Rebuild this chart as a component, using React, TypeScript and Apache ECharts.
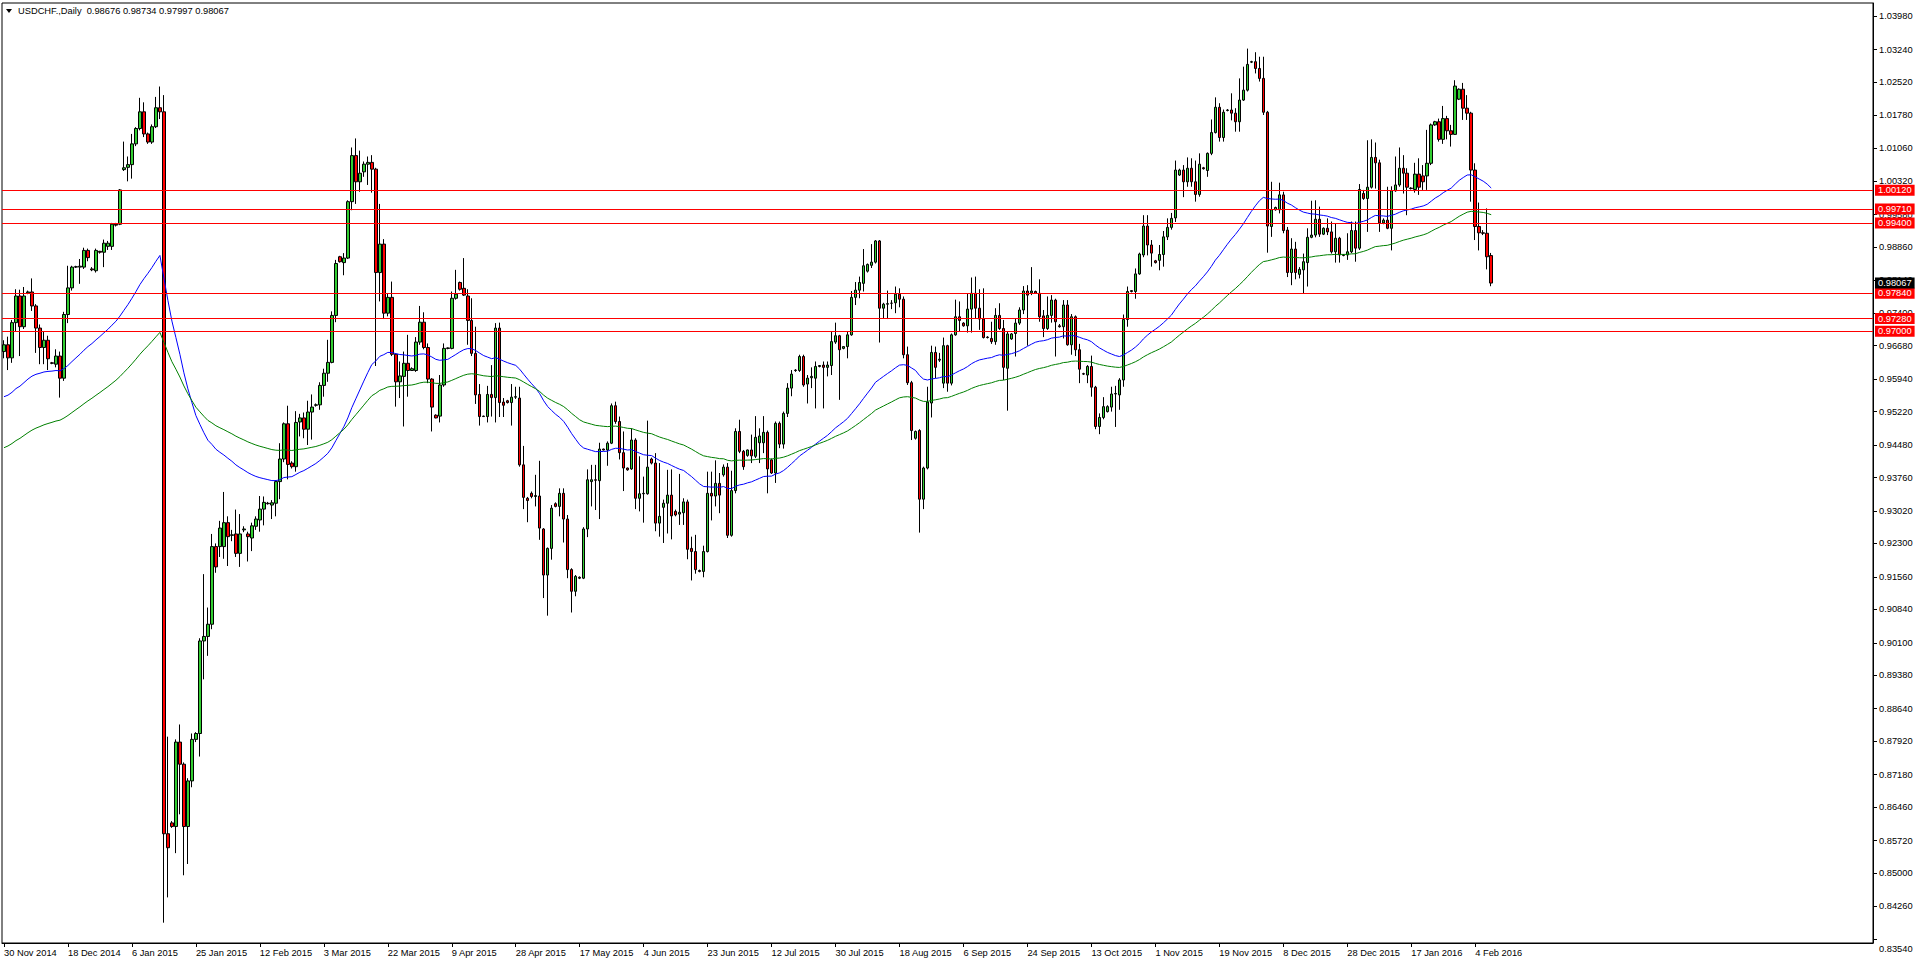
import React, { useEffect, useRef } from "react";
import * as echarts from "echarts";

const SYMBOL = "USDCHF.,Daily";
const FIRST_DAY = "2014-11-30";
const MISSING_DAYS = ["2015-12-25", "2016-01-01"];
const MONTHS = ["Jan", "Feb", "Mar", "Apr", "May", "Jun", "Jul", "Aug", "Sep", "Oct", "Nov", "Dec"];
const SLOT_COUNT = 468;
const LABEL_EVERY = 16;

const Y_MIN = 0.8345;
const Y_MAX = 1.0427;
const PRICE_TICKS = [
  1.0398, 1.0324, 1.0252, 1.0178, 1.0106, 1.0032, 0.9958, 0.9886, 0.9814, 0.974,
  0.9668, 0.9594, 0.9522, 0.9448, 0.9376, 0.9302, 0.923, 0.9156, 0.9084, 0.901,
  0.8938, 0.8864, 0.8792, 0.8718, 0.8646, 0.8572, 0.85, 0.8426, 0.8354,
];
const LEVELS = [1.0012, 0.9971, 0.994, 0.9784, 0.9728, 0.97];

const EMA_FAST_PERIOD = 50;
const EMA_FAST_START = 0.9555;
const EMA_SLOW_PERIOD = 100;
const EMA_SLOW_START = 0.9442;

// daily bars: [open, high, low, close]
const barsDecJan = [
  [0.9655, 0.968, 0.964, 0.967], [0.967, 0.9688, 0.9614, 0.9641], [0.9641, 0.9725, 0.963, 0.9719],
  [0.9719, 0.9793, 0.97, 0.9778], [0.9778, 0.9792, 0.9645, 0.971], [0.971, 0.9798, 0.9705, 0.9778],
  [0.9785, 0.979, 0.9782, 0.9787], [0.9787, 0.9817, 0.9745, 0.9756], [0.9756, 0.976, 0.9652, 0.9707],
  [0.9707, 0.9715, 0.9627, 0.9664], [0.9664, 0.97, 0.9627, 0.968], [0.968, 0.969, 0.9614, 0.9639],
  [0.963, 0.9632, 0.9627, 0.9629], [0.9627, 0.966, 0.962, 0.9645], [0.9645, 0.9655, 0.9553, 0.9596],
  [0.9596, 0.9743, 0.959, 0.9737], [0.9737, 0.9845, 0.9718, 0.9796], [0.9796, 0.9845, 0.979, 0.9842],
  [0.9842, 0.9845, 0.984, 0.9843], [0.9842, 0.986, 0.9805, 0.9844], [0.9842, 0.9885, 0.9838, 0.9879],
  [0.9879, 0.9883, 0.9855, 0.9863], [0.9838, 0.9842, 0.9833, 0.9836], [0.9834, 0.9883, 0.983, 0.9879],
  [0.9877, 0.9878, 0.9872, 0.9875], [0.9875, 0.9903, 0.9842, 0.9895], [0.9888, 0.99, 0.988, 0.9895],
  [0.9888, 0.994, 0.988, 0.9937], [0.9937, 0.994, 0.9932, 0.9935], [0.9937, 1.0015, 0.9935, 1.0013],
  [1.0058, 1.012, 1.0055, 1.0062], [1.0063, 1.0087, 1.0032, 1.0069], [1.0069, 1.0137, 1.0038, 1.0115],
  [1.0115, 1.0152, 1.011, 1.0149], [1.0149, 1.0217, 1.0145, 1.0186], [1.0186, 1.0207, 1.013, 1.0137],
  [1.0137, 1.014, 1.0115, 1.0119], [1.0119, 1.0158, 1.0115, 1.0153], [1.0153, 1.0219, 1.015, 1.0195],
  [1.0195, 1.0242, 1.017, 1.0186], [1.0186, 1.0223, 0.839, 0.8587], [0.8587, 0.8802, 0.8446, 0.8556],
  [0.8611, 0.8615, 0.86, 0.8603], [0.8603, 0.8796, 0.8544, 0.879], [0.879, 0.8829, 0.863, 0.8741],
  [0.8741, 0.8745, 0.8495, 0.8603], [0.8603, 0.871, 0.852, 0.8704], [0.8704, 0.8809, 0.869, 0.8796],
  [0.8796, 0.8812, 0.879, 0.8809], [0.8809, 0.902, 0.8758, 0.9014], [0.9014, 0.9162, 0.8929, 0.9024],
  [0.9024, 0.9088, 0.8981, 0.9051], [0.9051, 0.9251, 0.904, 0.9223], [0.9223, 0.923, 0.9165, 0.9178],
  [0.9223, 0.928, 0.92, 0.9264], [0.9223, 0.9344, 0.9196, 0.9276], [0.9276, 0.929, 0.918, 0.9245],
  [0.9248, 0.926, 0.9235, 0.9249], [0.9251, 0.9305, 0.92, 0.9208], [0.9208, 0.9295, 0.9178, 0.9251],
  [0.926, 0.9268, 0.9255, 0.9262], [0.9251, 0.9256, 0.919, 0.9245], [0.9242, 0.9276, 0.9213, 0.9269],
  [0.9268, 0.929, 0.926, 0.9284], [0.9282, 0.9335, 0.9256, 0.9306],
];

const barsFebApr = [
  [0.9306, 0.9334, 0.927, 0.9321], [0.9319, 0.9322, 0.9316, 0.9318], [0.9315, 0.9326, 0.9284, 0.932],
  [0.9319, 0.937, 0.929, 0.9367], [0.9367, 0.9452, 0.9328, 0.9417], [0.9417, 0.9498, 0.941, 0.9495],
  [0.9495, 0.9535, 0.9372, 0.9405], [0.9408, 0.9412, 0.9396, 0.94], [0.94, 0.9523, 0.9389, 0.9498],
  [0.9499, 0.9517, 0.9467, 0.9508], [0.9508, 0.952, 0.9463, 0.9483], [0.9483, 0.9546, 0.9448, 0.9521],
  [0.9521, 0.956, 0.946, 0.9532], [0.9536, 0.954, 0.9533, 0.9537], [0.9537, 0.9587, 0.9526, 0.958],
  [0.958, 0.9617, 0.9555, 0.9607], [0.9607, 0.9681, 0.9588, 0.9631], [0.9631, 0.9744, 0.9629, 0.9735],
  [0.9735, 0.9858, 0.972, 0.985], [0.9865, 0.9867, 0.9852, 0.9854], [0.9852, 0.9873, 0.9824, 0.9862],
  [0.9862, 0.999, 0.986, 0.9987], [0.9987, 1.0107, 0.9968, 1.0089], [1.0089, 1.0127, 0.9982, 1.0031],
  [1.0031, 1.01, 1.0009, 1.005], [1.0053, 1.0076, 1.0042, 1.007], [1.007, 1.0087, 1.0024, 1.0074],
  [1.0074, 1.009, 1.0007, 1.0059], [1.0059, 1.0062, 0.9623, 0.983], [0.983, 0.9982, 0.9766, 0.9893],
  [0.9893, 0.9904, 0.9727, 0.974], [0.974, 0.9784, 0.9733, 0.9775], [0.9775, 0.981, 0.9645, 0.9649],
  [0.9649, 0.9651, 0.9533, 0.9588], [0.9588, 0.9633, 0.9552, 0.9601], [0.96, 0.9655, 0.9489, 0.9629],
  [0.9629, 0.9692, 0.9555, 0.9613], [0.9613, 0.962, 0.9612, 0.9617], [0.9613, 0.9687, 0.961, 0.9676],
  [0.9676, 0.9756, 0.967, 0.972], [0.972, 0.9742, 0.966, 0.9664], [0.9664, 0.9673, 0.9585, 0.9594],
  [0.9594, 0.9596, 0.9478, 0.9532], [0.9514, 0.9516, 0.9507, 0.9508], [0.9512, 0.9603, 0.9498, 0.9581],
  [0.9581, 0.9673, 0.9577, 0.9662], [0.9662, 0.9664, 0.966, 0.9663], [0.9662, 0.9788, 0.966, 0.9773],
  [0.9773, 0.9836, 0.977, 0.9782], [0.9808, 0.981, 0.979, 0.9793], [0.9795, 0.9862, 0.9778, 0.978],
  [0.9778, 0.9793, 0.967, 0.9724], [0.9724, 0.9773, 0.9645, 0.9651], [0.9651, 0.971, 0.9539, 0.9559],
  [0.956, 0.9583, 0.9491, 0.9511], [0.9511, 0.9513, 0.951, 0.9512], [0.9511, 0.9579, 0.9498, 0.956],
  [0.956, 0.9625, 0.9511, 0.9553], [0.9553, 0.9718, 0.9498, 0.9707], [0.9707, 0.9719, 0.951, 0.9542],
  [0.9543, 0.9552, 0.951, 0.9536], [0.9546, 0.9548, 0.954, 0.9542], [0.9542, 0.9583, 0.9491, 0.9554],
  [0.9554, 0.9577, 0.955, 0.9555], [0.9552, 0.9577, 0.94, 0.9404], [0.9404, 0.9446, 0.9306, 0.9332],
  [0.933, 0.9333, 0.9277, 0.9325],
];

const barsMayJul = [
  [0.9341, 0.9345, 0.933, 0.9334], [0.9334, 0.9382, 0.9312, 0.9336], [0.9335, 0.9413, 0.9238, 0.9264],
  [0.9262, 0.9264, 0.9109, 0.916], [0.916, 0.9221, 0.907, 0.9219], [0.9219, 0.9315, 0.9194, 0.9308],
  [0.9318, 0.9321, 0.931, 0.9312], [0.9312, 0.9352, 0.929, 0.9341], [0.9341, 0.9352, 0.9232, 0.9284],
  [0.9284, 0.9293, 0.9153, 0.9172], [0.9172, 0.9175, 0.9077, 0.9124], [0.9124, 0.916, 0.9113, 0.9157],
  [0.9155, 0.9157, 0.9151, 0.9153], [0.9153, 0.9266, 0.9151, 0.9262], [0.9262, 0.9394, 0.9244, 0.9371],
  [0.9367, 0.9404, 0.9312, 0.9371], [0.9371, 0.9404, 0.9304, 0.937], [0.9369, 0.9453, 0.9284, 0.9439],
  [0.9439, 0.944, 0.9436, 0.9437], [0.9437, 0.9456, 0.9402, 0.9452], [0.9452, 0.954, 0.945, 0.9535],
  [0.9535, 0.9544, 0.9495, 0.95], [0.95, 0.9511, 0.9416, 0.9431], [0.9431, 0.9478, 0.9346, 0.9397],
  [0.9397, 0.9398, 0.9391, 0.9393], [0.9395, 0.9485, 0.9393, 0.9459], [0.9459, 0.9463, 0.9306, 0.933],
  [0.933, 0.9423, 0.9301, 0.934], [0.934, 0.9378, 0.9276, 0.9341], [0.934, 0.9502, 0.9338, 0.9399],
  [0.9417, 0.942, 0.9405, 0.9408], [0.9408, 0.943, 0.9257, 0.9275], [0.9275, 0.9408, 0.9245, 0.929],
  [0.931, 0.9327, 0.9231, 0.9319], [0.9319, 0.9393, 0.9252, 0.9337], [0.9337, 0.9394, 0.9239, 0.9291],
  [0.9301, 0.9305, 0.929, 0.9293], [0.9295, 0.9384, 0.9271, 0.9299], [0.9298, 0.933, 0.9271, 0.9322],
  [0.9322, 0.9327, 0.9195, 0.9217], [0.9219, 0.9245, 0.9148, 0.9212], [0.9212, 0.9249, 0.9163, 0.9172],
  [0.917, 0.9172, 0.9166, 0.9168], [0.9168, 0.9225, 0.9155, 0.9212], [0.9212, 0.9389, 0.921, 0.9341],
  [0.9341, 0.9389, 0.9281, 0.9335], [0.9335, 0.9414, 0.9312, 0.9363], [0.9363, 0.9386, 0.9297, 0.9337],
  [0.9382, 0.9405, 0.9378, 0.9399], [0.9399, 0.9408, 0.9242, 0.9248], [0.9248, 0.9391, 0.9245, 0.9347],
  [0.9347, 0.9485, 0.9341, 0.9478], [0.9478, 0.9504, 0.943, 0.9434], [0.9434, 0.9437, 0.9393, 0.94],
  [0.9425, 0.9438, 0.9422, 0.9437], [0.9437, 0.9471, 0.9408, 0.9424], [0.9423, 0.9512, 0.9419, 0.9465],
  [0.9453, 0.9485, 0.9408, 0.9468], [0.9453, 0.9512, 0.943, 0.9476], [0.9476, 0.948, 0.9341, 0.9395],
  [0.9415, 0.9418, 0.9384, 0.9386], [0.9386, 0.95, 0.9364, 0.9496], [0.9496, 0.95, 0.9441, 0.945],
  [0.945, 0.9522, 0.944, 0.9518], [0.9518, 0.9585, 0.951, 0.9574], [0.9574, 0.9614, 0.9556, 0.9605],
];

const barsJulOct = [
  [0.9614, 0.9616, 0.961, 0.9613], [0.9613, 0.9648, 0.961, 0.9644], [0.9644, 0.9648, 0.9577, 0.9581],
  [0.9583, 0.9603, 0.954, 0.9596], [0.9597, 0.962, 0.9574, 0.96], [0.9596, 0.9633, 0.9529, 0.9622],
  [0.9622, 0.9625, 0.962, 0.9624], [0.9625, 0.9633, 0.9529, 0.962], [0.962, 0.9633, 0.96, 0.9625],
  [0.9624, 0.9699, 0.9603, 0.9677], [0.9676, 0.9719, 0.9672, 0.969], [0.969, 0.9692, 0.9548, 0.9659],
  [0.9662, 0.9664, 0.966, 0.9666], [0.9666, 0.9699, 0.964, 0.9692], [0.9692, 0.9789, 0.969, 0.9775],
  [0.9775, 0.9809, 0.9758, 0.9791], [0.9791, 0.9821, 0.9773, 0.9808], [0.9806, 0.9882, 0.9788, 0.9845],
  [0.9833, 0.985, 0.983, 0.9848], [0.9846, 0.9893, 0.984, 0.9853], [0.9853, 0.9902, 0.985, 0.99],
  [0.99, 0.9902, 0.9675, 0.9751], [0.9751, 0.9763, 0.9729, 0.976], [0.976, 0.979, 0.9727, 0.9761],
  [0.9762, 0.9769, 0.9749, 0.9762], [0.9763, 0.9799, 0.974, 0.9782], [0.9782, 0.9795, 0.9753, 0.9771],
  [0.9771, 0.9777, 0.964, 0.9648], [0.9648, 0.9666, 0.9581, 0.9586], [0.9586, 0.959, 0.9459, 0.948],
  [0.9463, 0.948, 0.946, 0.9478], [0.948, 0.9483, 0.9254, 0.9328], [0.9328, 0.94, 0.9306, 0.9397],
  [0.9397, 0.9577, 0.9394, 0.9543], [0.9541, 0.9668, 0.9509, 0.9653], [0.9653, 0.9666, 0.9596, 0.962],
  [0.9636, 0.9652, 0.9632, 0.9638], [0.9585, 0.9686, 0.9574, 0.9668], [0.9668, 0.967, 0.9566, 0.9585],
  [0.9585, 0.9695, 0.958, 0.9692], [0.9692, 0.977, 0.969, 0.9732], [0.9732, 0.9766, 0.9699, 0.9724],
  [0.9718, 0.972, 0.971, 0.9712], [0.9712, 0.9784, 0.9697, 0.9749], [0.9749, 0.9819, 0.9697, 0.9784],
  [0.9784, 0.9821, 0.9729, 0.9751], [0.9751, 0.9793, 0.9703, 0.9727], [0.9727, 0.9795, 0.9684, 0.9686],
  [0.9687, 0.9689, 0.9684, 0.9686], [0.9684, 0.9721, 0.9672, 0.9677], [0.9677, 0.9751, 0.967, 0.9735],
  [0.9735, 0.9762, 0.9703, 0.9706], [0.9706, 0.9725, 0.9592, 0.962], [0.9618, 0.97, 0.9524, 0.9694],
  [0.9683, 0.9696, 0.9681, 0.9694], [0.9695, 0.9729, 0.9644, 0.9718], [0.9718, 0.9753, 0.9714, 0.9747],
  [0.9747, 0.98, 0.9738, 0.9789], [0.9789, 0.9802, 0.9668, 0.978], [0.9785, 0.9842, 0.978, 0.9789],
  [0.9788, 0.979, 0.9783, 0.9784], [0.9784, 0.9815, 0.9721, 0.9732], [0.9734, 0.9747, 0.9687, 0.9706],
  [0.9706, 0.9777, 0.9703, 0.9735], [0.9735, 0.978, 0.9719, 0.9769], [0.9769, 0.9772, 0.9644, 0.9721],
  [0.9712, 0.9716, 0.9708, 0.971], [0.971, 0.9769, 0.9684, 0.9758], [0.9758, 0.9769, 0.9668, 0.967],
  [0.967, 0.9738, 0.9648, 0.9732], [0.9732, 0.9735, 0.9645, 0.9659], [0.9659, 0.9672, 0.9585, 0.9616],
  [0.9606, 0.9608, 0.9603, 0.9605], [0.9603, 0.9625, 0.9585, 0.9622], [0.9622, 0.9646, 0.9555, 0.9576],
  [0.9576, 0.9579, 0.9483, 0.9489], [0.9489, 0.9518, 0.9472, 0.9509], [0.9509, 0.9554, 0.9505, 0.9533],
  [0.9522, 0.9536, 0.952, 0.9533], [0.9532, 0.9577, 0.9522, 0.9561], [0.9561, 0.9579, 0.9488, 0.9562],
  [0.9559, 0.9596, 0.9526, 0.9592], [0.9592, 0.9737, 0.9577, 0.9726], [0.9726, 0.9799, 0.971, 0.9788],
  [0.9788, 0.9791, 0.9786, 0.979], [0.9788, 0.9839, 0.9772, 0.9827], [0.9827, 0.9874, 0.9825, 0.9871],
];

const barsOctFeb = [
  [0.9869, 0.9957, 0.9864, 0.9933], [0.9933, 0.9957, 0.9868, 0.9891], [0.9891, 0.9902, 0.9843, 0.9873],
  [0.9856, 0.9858, 0.985, 0.9852], [0.9857, 0.9891, 0.9835, 0.987], [0.987, 0.9922, 0.9843, 0.9909],
  [0.9909, 0.995, 0.9902, 0.993], [0.993, 0.9962, 0.9925, 0.995], [0.9951, 1.0078, 0.9942, 1.0057],
  [1.0046, 1.006, 1.0044, 1.0057], [1.0057, 1.0068, 0.9997, 1.0031], [1.0031, 1.0085, 1.002, 1.0061],
  [1.0061, 1.0083, 1.002, 1.0031], [1.0031, 1.0078, 0.9987, 1.0003], [1.0003, 1.0094, 0.9998, 1.007],
  [1.0062, 1.0064, 1.0058, 1.006], [1.0056, 1.0096, 1.0042, 1.0094], [1.0094, 1.0169, 1.009, 1.014],
  [1.014, 1.0218, 1.0138, 1.0196], [1.0196, 1.0205, 1.012, 1.0129], [1.0129, 1.0191, 1.012, 1.0185],
  [1.0189, 1.0192, 1.0187, 1.019], [1.019, 1.0227, 1.0167, 1.0183], [1.0183, 1.0194, 1.0142, 1.0164],
  [1.0164, 1.026, 1.0142, 1.0212], [1.0212, 1.0286, 1.021, 1.0234], [1.0234, 1.0326, 1.0231, 1.0291],
  [1.0296, 1.0299, 1.0294, 1.0297], [1.0297, 1.0318, 1.0271, 1.0282], [1.0282, 1.0308, 1.0253, 1.026],
  [1.026, 1.0308, 1.0179, 1.0185], [1.0185, 1.0188, 0.9874, 0.9933], [0.9932, 1.0031, 0.9909, 0.9969],
  [0.9969, 0.9976, 0.9967, 0.9974], [0.9969, 1.0029, 0.9961, 1.0002], [1.0002, 1.0009, 0.9917, 0.9923],
  [0.9924, 0.9931, 0.982, 0.983], [0.983, 0.9906, 0.9802, 0.9882], [0.9882, 0.9898, 0.9815, 0.983],
  [0.9826, 0.9842, 0.9817, 0.9837], [0.9836, 0.9872, 0.9784, 0.9854], [0.9852, 0.9928, 0.9799, 0.9908],
  [0.9908, 0.9989, 0.9906, 0.9913], [0.9913, 0.999, 0.9908, 0.9948], [0.9948, 0.9976, 0.9909, 0.9915],
  [0.9915, 0.993, 0.9913, 0.9928], [0.9928, 0.995, 0.9913, 0.992], [0.992, 0.9943, 0.9872, 0.9876],
  [0.9876, 0.9939, 0.9852, 0.9906], [0.9906, 0.9909, 0.9852, 0.9869], [0.9869, 0.9871, 0.9866, 0.9868],
  [0.9869, 0.9917, 0.9858, 0.9876], [0.9876, 0.9943, 0.9873, 0.9923], [0.9923, 0.9943, 0.9854, 0.9884],
  [0.9884, 1.0026, 0.988, 1.0014], [1.0005, 1.0013, 0.9991, 0.9994], [0.9994, 1.0123, 0.992, 1.0019],
  [1.0019, 1.0125, 1.0016, 1.0085], [1.0085, 1.0118, 1.0016, 1.0073], [1.0073, 1.008, 0.992, 0.994],
  [0.994, 0.995, 0.9937, 0.9946], [0.9946, 1.002, 0.9926, 0.9928], [0.9928, 1.0021, 0.9879, 1.0011],
  [1.0011, 1.0087, 1.0009, 1.0024], [1.0024, 1.0107, 1.002, 1.0061], [1.0061, 1.009, 1.0005, 1.005],
  [1.005, 1.0061, 0.9957, 1.0019], [1.0017, 1.0019, 1.0014, 1.0016], [1.0014, 1.0073, 1.0007, 1.0048],
  [1.0048, 1.0083, 1.0002, 1.0019], [1.0044, 1.0068, 1.0013, 1.0031], [1.0044, 1.0146, 1.0013, 1.0072],
  [1.0072, 1.016, 1.0068, 1.0157], [1.0157, 1.0166, 1.0155, 1.0164], [1.0164, 1.0171, 1.012, 1.0125],
  [1.0125, 1.0199, 1.0115, 1.0171], [1.0171, 1.0177, 1.0125, 1.0144], [1.0144, 1.0157, 1.0109, 1.0136],
  [1.0136, 1.0256, 1.0135, 1.0243], [1.0214, 1.0238, 1.0212, 1.0236], [1.0236, 1.025, 1.0168, 1.0194],
  [1.0194, 1.0223, 1.0168, 1.0183], [1.0183, 1.0186, 0.9987, 1.0057], [1.0057, 1.0072, 0.9902, 0.9932],
  [0.9932, 0.9985, 0.9879, 0.9918], [0.9918, 0.9924, 0.9913, 0.9917], [0.9917, 0.9972, 0.9837, 0.9865],
  [0.98676, 0.98734, 0.97997, 0.98067],
];

const BARS = [...barsDecJan, ...barsFebApr, ...barsMayJul, ...barsJulOct, ...barsOctFeb];

const FONT = '"Liberation Sans", Arial, sans-serif';
const FONT_SIZE = 9.3;
const BULL = "#32cd32";
const BEAR = "#ff0000";

function buildDates(n: number): string[] {
  const out: string[] = [];
  const d = new Date(FIRST_DAY + "T00:00:00Z");
  while (out.length < n) {
    const iso = d.toISOString().slice(0, 10);
    if (d.getUTCDay() !== 6 && !MISSING_DAYS.includes(iso)) {
      out.push(`${d.getUTCDate()} ${MONTHS[d.getUTCMonth()]} ${d.getUTCFullYear()}`);
    }
    d.setUTCDate(d.getUTCDate() + 1);
  }
  return out;
}

function ema(closes: number[], period: number, start: number): number[] {
  const k = 2 / (period + 1);
  const out: number[] = [];
  let e = start;
  closes.forEach((c, i) => {
    if (i > 0) e = e + k * (c - e);
    out.push(+e.toFixed(5));
  });
  return out;
}

export default function App() {
  const ref = useRef<HTMLDivElement>(null);

  useEffect(() => {
    if (!ref.current) return;
    const chart = echarts.init(ref.current, undefined, { renderer: "svg" });

    const dates = buildDates(BARS.length);
    const cats = dates.slice();
    for (let i = BARS.length; i < SLOT_COUNT; i++) cats.push("_" + i);
    const showAt = (i: number, v: string) => i % LABEL_EVERY === 0 && !String(v).startsWith("_");

    const candle = BARS.map(([o, h, l, c]) => [o, c, Math.min(l, o, c), Math.max(h, o, c)]);
    const closes = BARS.map((b) => b[3]);
    const fast = ema(closes, EMA_FAST_PERIOD, EMA_FAST_START);
    const slow = ema(closes, EMA_SLOW_PERIOD, EMA_SLOW_START);
    const last = BARS[BARS.length - 1];
    const header = `${SYMBOL}  ${last.map((v) => v.toFixed(5)).join(" ")}`;

    const labelBase = {
      show: true,
      position: "end",
      distance: 2,
      color: "#fff",
      padding: [1, 3, 0, 3],
      fontFamily: FONT,
      fontSize: FONT_SIZE,
      lineHeight: 10,
      formatter: (p: any) => Number(p.value).toFixed(5),
    };

    const option: any = {
      animation: false,
      backgroundColor: "#fff",
      grid: {
        left: 2,
        right: 43,
        top: 3,
        bottom: 21,
        show: true,
        borderColor: "#000",
        borderWidth: 1,
        containLabel: false,
      },
      graphic: [
        { type: "polygon", shape: { points: [[6, 9], [12, 9], [9, 13]] }, style: { fill: "#000" } },
        {
          type: "text",
          x: 18,
          y: 11,
          style: { text: header, fontFamily: FONT, fontSize: FONT_SIZE, fill: "#000", verticalAlign: "middle" },
        },
      ],
      xAxis: {
        type: "category",
        data: cats,
        boundaryGap: true,
        axisLine: { show: true, lineStyle: { color: "#000", width: 1 } },
        axisTick: { show: true, alignWithLabel: true, interval: showAt, length: 4, lineStyle: { color: "#000" } },
        axisLabel: {
          interval: showAt,
          align: "left",
          margin: 5,
          color: "#000",
          fontFamily: FONT,
          fontSize: FONT_SIZE,
          formatter: (v: string) => (v.startsWith("_") ? "" : v),
        },
        splitLine: { show: false },
      },
      yAxis: {
        type: "value",
        position: "right",
        min: Y_MIN,
        max: Y_MAX,
        axisLine: { show: true, lineStyle: { color: "#000", width: 1 } },
        axisTick: { show: true, length: 4, customValues: PRICE_TICKS, lineStyle: { color: "#000" } },
        axisLabel: {
          customValues: PRICE_TICKS,
          margin: 6,
          color: "#000",
          fontFamily: FONT,
          fontSize: FONT_SIZE,
          formatter: (v: number) =>
            v === PRICE_TICKS[PRICE_TICKS.length - 1] ? `{low|${v.toFixed(5)}}` : v.toFixed(5),
          rich: { low: { padding: [20, 0, 0, 0], fontFamily: FONT, fontSize: FONT_SIZE, color: "#000" } },
        },
        splitLine: { show: false },
      },
      series: [
        {
          type: "candlestick",
          data: candle,
          barWidth: 3,
          z: 2,
          itemStyle: {
            color: BULL,
            color0: BEAR,
            borderColor: "#000",
            borderColor0: "#000",
            borderWidth: 1,
          },
          markLine: {
            silent: true,
            symbol: ["none", "none"],
            precision: 5,
            animation: false,
            data: [
              ...LEVELS.map((v) => ({
                yAxis: v,
                lineStyle: { color: "#ff0000", width: 1, type: "solid" },
                label: { ...labelBase, backgroundColor: "#ff0000" },
              })),
              {
                yAxis: last[3],
                lineStyle: { color: "rgba(0,0,0,0)", width: 1, type: "solid" },
                label: { ...labelBase, backgroundColor: "#000" },
              },
            ],
          },
        },
        {
          type: "line",
          data: fast,
          showSymbol: false,
          z: 3,
          lineStyle: { color: "#0000ff", width: 1 },
          itemStyle: { color: "#0000ff" },
        },
        {
          type: "line",
          data: slow,
          showSymbol: false,
          z: 3,
          lineStyle: { color: "#008000", width: 1 },
          itemStyle: { color: "#008000" },
        },
      ],
    };

    chart.setOption(option);
    return () => chart.dispose();
  }, []);

  return (
    <div
      ref={ref}
      style={{ position: "absolute", left: 0, top: 0, width: 1916, height: 964, background: "#fff" }}
    />
  );
}
